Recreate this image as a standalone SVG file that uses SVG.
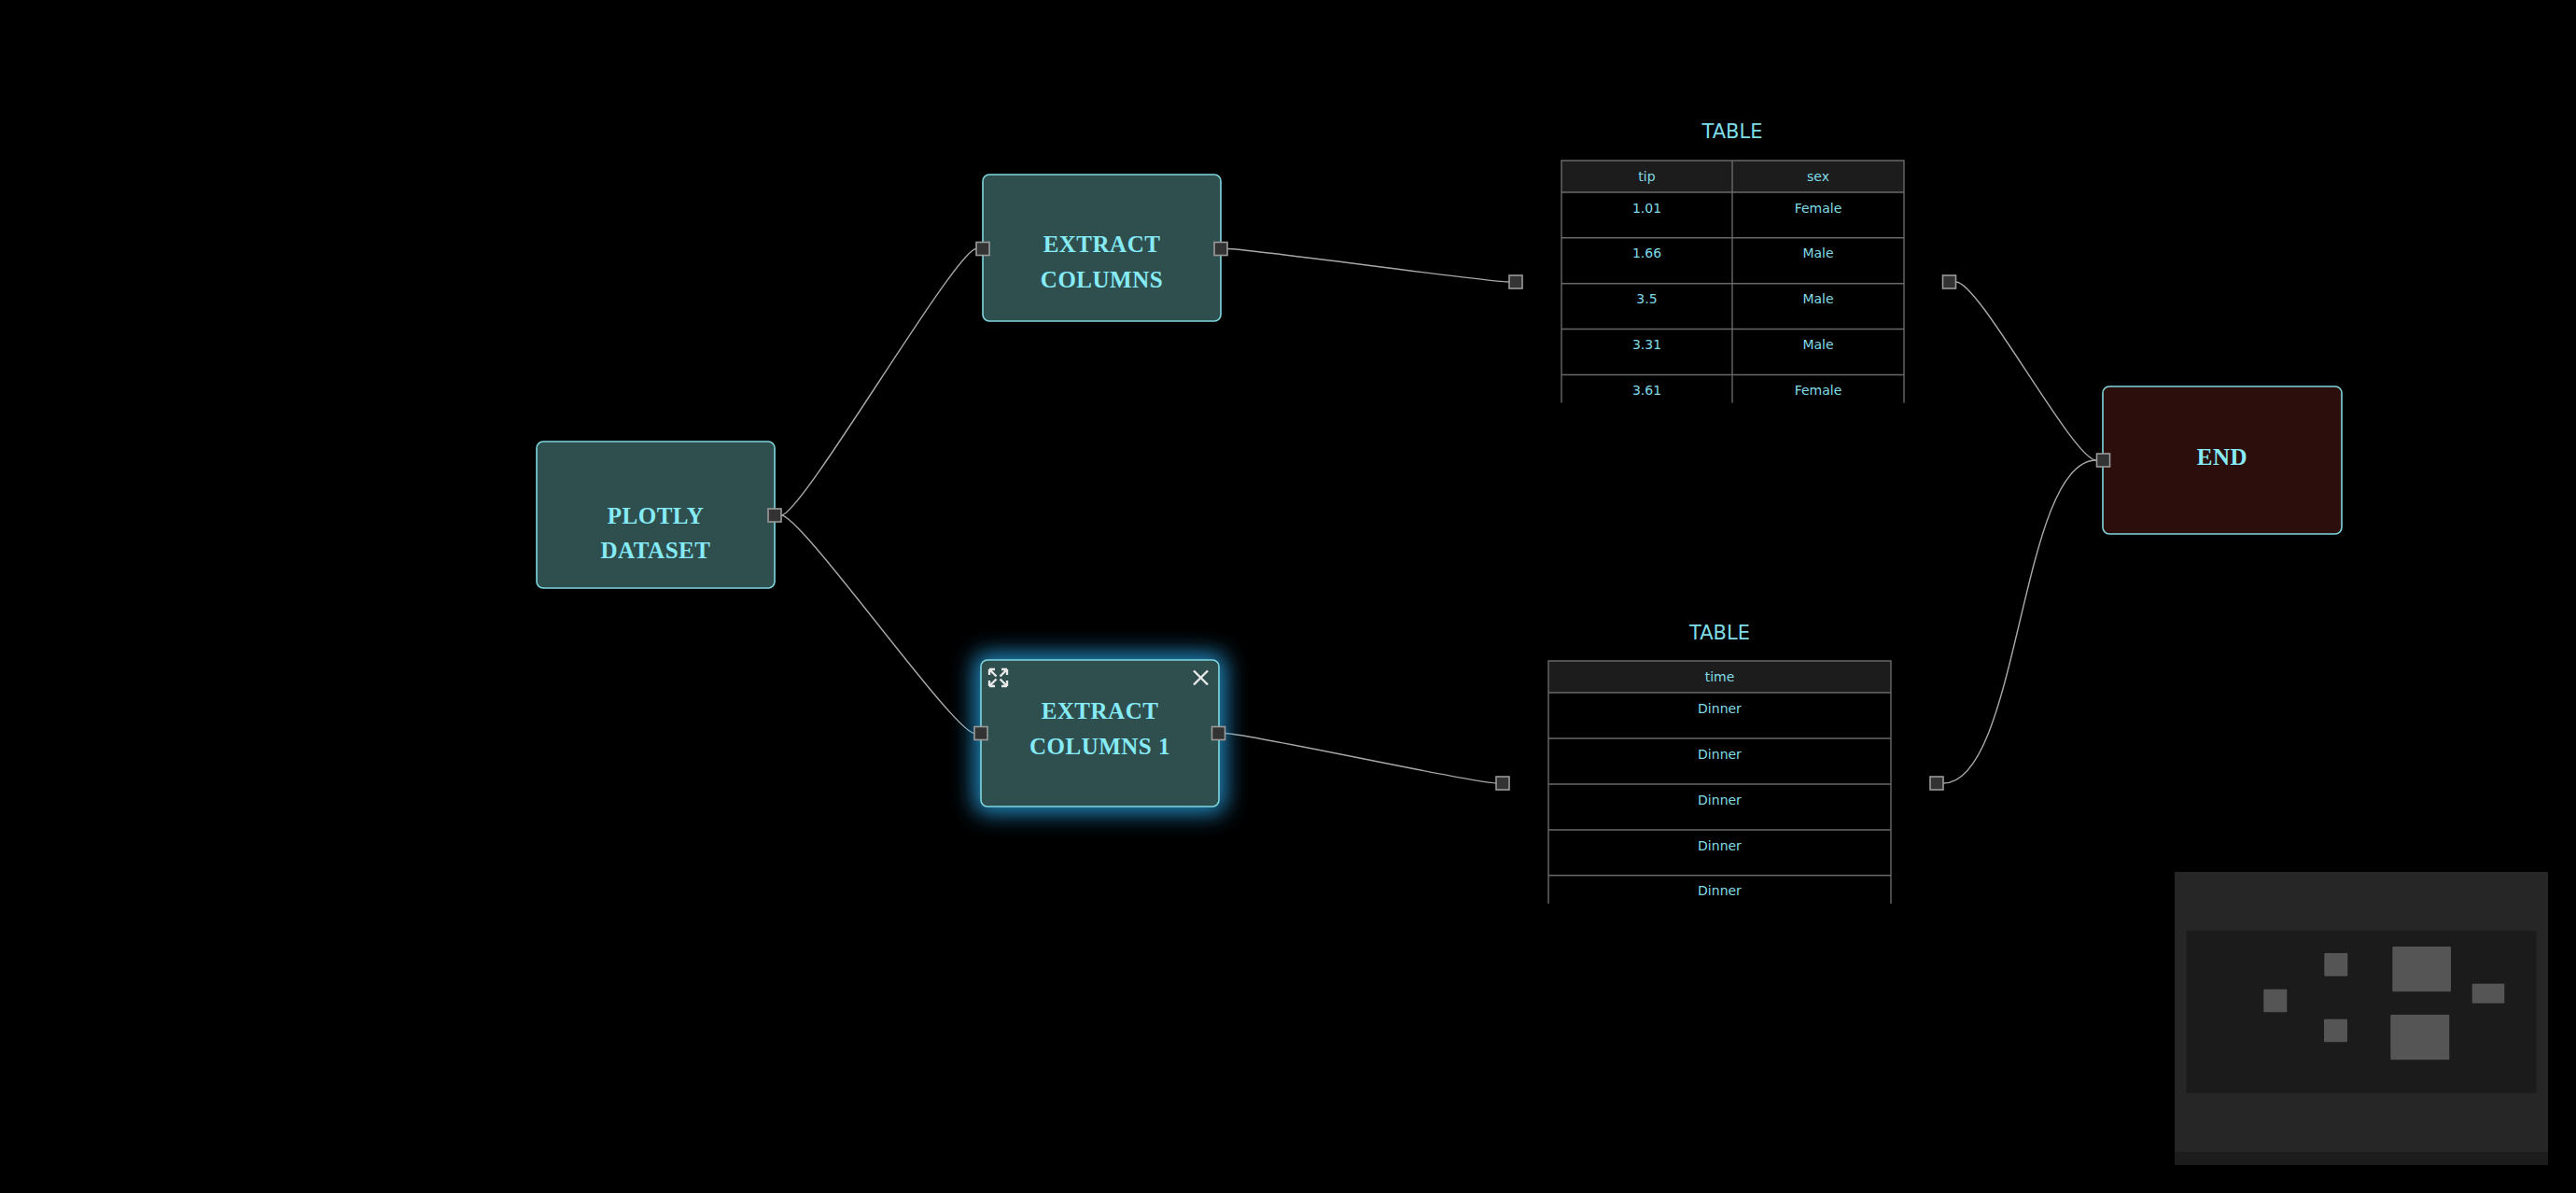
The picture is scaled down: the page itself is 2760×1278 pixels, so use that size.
<svg xmlns="http://www.w3.org/2000/svg" width="2760" height="1278" viewBox="0 0 2760 1278">
  <defs>
    <style>
      .node { fill: #2f4f4f; stroke: #7fd8df; stroke-width: 1.6; }
      .end { fill: #2c0e0c; stroke: #7fd8df; stroke-width: 1.6; }
      .label { font-family: "Liberation Serif", "Times New Roman", serif; font-weight: bold; font-size: 25px; fill: #86ebf6; text-anchor: middle; letter-spacing: 0.5px; }
      .port { fill: #333333; stroke: #9a9a9a; stroke-width: 1.6; }
      .edge { fill: none; stroke: #a8a8a8; stroke-width: 1.4; }
      .title { font-family: "DejaVu Sans", Verdana, sans-serif; font-size: 21px; fill: #7fdde8; text-anchor: middle; }
      .cell { font-family: "DejaVu Sans", Verdana, sans-serif; font-size: 14px; fill: #80dbe6; text-anchor: middle; }
      .grid { stroke: #686868; stroke-width: 1.4; fill: none; }
      .head { fill: #1c1c1c; }
      .icon { stroke: #e8e8e8; stroke-width: 2.4; fill: none; stroke-linecap: butt; }
      .mm { fill: #555555; }
    </style>
    <filter id="glow" x="-40%" y="-40%" width="180%" height="180%">
      <feGaussianBlur stdDeviation="12"/>
    </filter>
  </defs>

  <rect width="2760" height="1278" fill="#000000"/>

  <!-- connectors -->
  <g id="connectors">
    <path class="edge" d="M837,552 C859,552 1024,266.5 1046,266.5"/>
    <path class="edge" d="M837,552 C859,552 1022,785.5 1044,785.5"/>
    <path class="edge" d="M1315,266.5 C1340,266.5 1592,302 1617,302"/>
    <path class="edge" d="M1312.5,785.5 C1337,785.5 1578,839 1603,839"/>
    <path class="edge" d="M2095.7,302 C2121,302 2221,493 2246,493"/>
    <path class="edge" d="M2082,839 C2164,839 2164,493 2246,493"/>
  </g>

  <!-- source dataset -->
  <g id="plotly-dataset">
    <rect class="node" x="575" y="473" width="255" height="157" rx="7"/>
    <text class="label" x="702.5" y="561">PLOTLY</text>
    <text class="label" x="702.5" y="598">DATASET</text>
    <rect class="port" x="823" y="545" width="14" height="14"/>
  </g>

  <!-- column extraction (upper) -->
  <g id="extract-columns">
    <rect class="node" x="1053" y="187" width="255" height="157" rx="7"/>
    <text class="label" x="1180.5" y="270">EXTRACT</text>
    <text class="label" x="1180.5" y="308">COLUMNS</text>
    <rect class="port" x="1046" y="259.5" width="14" height="14"/>
    <rect class="port" x="1301" y="259.5" width="14" height="14"/>
  </g>

  <!-- column extraction (lower, selected) -->
  <g id="extract-columns-1">
    <rect x="1047" y="703" width="263" height="165" rx="9" fill="#2aa6e8" stroke="#2aa6e8" stroke-width="6" opacity="0.85" filter="url(#glow)"/>
    <rect class="node" x="1051" y="707" width="255" height="157" rx="7"/>
    <text class="label" x="1178.5" y="770">EXTRACT</text>
    <text class="label" x="1178.5" y="808">COLUMNS 1</text>
    <!-- expand icon -->
    <g class="icon">
      <path d="M1060,717 L1067.5,724.5 M1060,717 h6 M1060,717 v6"/>
      <path d="M1079,717 L1071.5,724.5 M1079,717 h-6 M1079,717 v6"/>
      <path d="M1060,735 L1067.5,727.5 M1060,735 h6 M1060,735 v-6"/>
      <path d="M1079,735 L1071.5,727.5 M1079,735 h-6 M1079,735 v-6"/>
    </g>
    <!-- close icon -->
    <path class="icon" d="M1279,718.5 L1294,733.5 M1294,718.5 L1279,733.5"/>
    <rect class="port" x="1044" y="778.5" width="14" height="14"/>
    <rect class="port" x="1298.5" y="778.5" width="14" height="14"/>
  </g>

  <!-- table: tip / sex -->
  <g id="table-tip-sex">
    <text class="title" x="1856" y="147.5">TABLE</text>
    <rect class="head" x="1673" y="172" width="367" height="34"/>
    <path class="grid" d="M1673,431.5 V172 H2040 V431.5 M1856,172 V431.5 M1673,206 H2040 M1673,254.8 H2040 M1673,303.7 H2040 M1673,352.5 H2040 M1673,401.5 H2040"/>
    <text class="cell" x="1764.5" y="193.5">tip</text>
    <text class="cell" x="1948" y="193.5">sex</text>
    <text class="cell" x="1764.5" y="227.5">1.01</text>
    <text class="cell" x="1948" y="227.5">Female</text>
    <text class="cell" x="1764.5" y="276.3">1.66</text>
    <text class="cell" x="1948" y="276.3">Male</text>
    <text class="cell" x="1764.5" y="325.2">3.5</text>
    <text class="cell" x="1948" y="325.2">Male</text>
    <text class="cell" x="1764.5" y="374">3.31</text>
    <text class="cell" x="1948" y="374">Male</text>
    <text class="cell" x="1764.5" y="423">3.61</text>
    <text class="cell" x="1948" y="423">Female</text>
    <rect class="port" x="1617" y="295" width="14" height="14"/>
    <rect class="port" x="2081.5" y="295" width="14" height="14"/>
  </g>

  <!-- table: time -->
  <g id="table-time">
    <text class="title" x="1842.5" y="684.5">TABLE</text>
    <rect class="head" x="1659" y="708" width="367" height="34"/>
    <path class="grid" d="M1659,968 V708 H2026 V968 M1659,742 H2026 M1659,791 H2026 M1659,840 H2026 M1659,889 H2026 M1659,937.8 H2026"/>
    <text class="cell" x="1842.5" y="729.5">time</text>
    <text class="cell" x="1842.5" y="763.5">Dinner</text>
    <text class="cell" x="1842.5" y="812.5">Dinner</text>
    <text class="cell" x="1842.5" y="861.5">Dinner</text>
    <text class="cell" x="1842.5" y="910.5">Dinner</text>
    <text class="cell" x="1842.5" y="959">Dinner</text>
    <rect class="port" x="1603" y="832" width="14" height="14"/>
    <rect class="port" x="2068" y="832" width="14" height="14"/>
  </g>

  <!-- terminal node -->
  <g id="end">
    <rect class="end" x="2253" y="414" width="256" height="158" rx="7"/>
    <text class="label" x="2381" y="497.5">END</text>
    <rect class="port" x="2246.5" y="486" width="14" height="14"/>
  </g>

  <!-- minimap -->
  <g id="minimap">
    <rect x="2330" y="934" width="400" height="314" fill="#262626"/>
    <rect x="2330" y="1234" width="400" height="14" fill="#1c1c1c"/>
    <rect x="2342.5" y="997" width="375" height="174" fill="#1b1b1b"/>
    <rect class="mm" x="2425.3" y="1059.7" width="25" height="24.6" rx="1"/>
    <rect class="mm" x="2490.3" y="1021" width="25" height="24.7" rx="1"/>
    <rect class="mm" x="2490" y="1091.7" width="25" height="24.6" rx="1"/>
    <rect class="mm" x="2563.3" y="1014" width="62.7" height="48.3" rx="1"/>
    <rect class="mm" x="2561.3" y="1087" width="63" height="48.3" rx="1"/>
    <rect class="mm" x="2648.7" y="1053.7" width="34.6" height="21" rx="1"/>
  </g>
</svg>
